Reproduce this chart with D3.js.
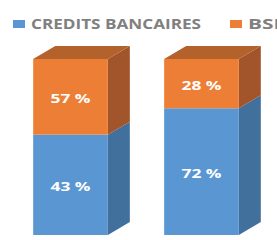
<!DOCTYPE html>
<html><head><meta charset="utf-8">
<script src="https://cdn.jsdelivr.net/npm/d3@7"></script>
<style>html,body{margin:0;padding:0;background:#fff;}svg{display:block;}</style>
</head><body>
<svg id="c" width="277" height="240"></svg>
<script>
const categories = ["A", "B"];
const seriesNames = ["CREDITS BANCAIRES", "BSF"];
const creditsValues = [57, 72];   // drawn heights (share of bar)
const bsfValues = [43, 28];
const creditsLabels = ["43 %", "72 %"];
const bsfLabels = ["57 %", "28 %"];

const W = 277, H = 240;
const svg = d3.select("#c");
const depth = {dx: 22, dy: -13};
const x = d3.scaleBand().domain(categories).range([7, 265]).paddingInner(0.43).paddingOuter(0.2);
const y = d3.scaleLinear().domain([0, 100]).range([235, 59]);

const colors = {
  "CREDITS BANCAIRES": {front: "#5A96D2", side: "#41709C", top: "#4A82B6"},
  "BSF": {front: "#EC7E35", side: "#A2552A", top: "#B4622C"}
};

const stackData = categories.map((c, i) => ({cat: c, "CREDITS BANCAIRES": creditsValues[i], "BSF": bsfValues[i]}));
const stack = d3.stack().keys(seriesNames)(stackData);
const labels = {"CREDITS BANCAIRES": creditsLabels, "BSF": bsfLabels};

stack.forEach((layer, li) => {
  const key = layer.key;
  const g = svg.append("g");
  layer.forEach((d, i) => {
    const x0 = x(categories[i]), x1 = x0 + x.bandwidth();
    const yT = y(d[1]), yB = y(d[0]);
    g.append("path")
      .attr("d", `M${x1},${yT}L${x1+depth.dx},${yT+depth.dy}L${x1+depth.dx},${yB+depth.dy}L${x1},${yB}Z`)
      .attr("fill", colors[key].side);
    if (li === stack.length - 1) {
      g.append("path")
        .attr("d", `M${x0},${yT}L${x0+depth.dx},${yT+depth.dy}L${x1+depth.dx},${yT+depth.dy}L${x1},${yT}Z`)
        .attr("fill", colors[key].top);
    }
    g.append("rect").attr("x", x0).attr("y", yT).attr("width", x.bandwidth()).attr("height", yB - yT)
      .attr("fill", colors[key].front);
    const cx = (x0 + x1) / 2;
    g.append("text")
      .attr("x", cx - 20).attr("y", (yT + yB) / 2 + 6)
      .attr("font-family", "Open Sans, sans-serif").attr("font-weight", "bold").attr("font-size", 13)
      .attr("textLength", 40).attr("lengthAdjust", "spacingAndGlyphs")
      .attr("fill", "#fff")
      .text(labels[key][i]);
  });
});

// legend
const legendX = [13, 230];
const legendTextLen = [170, 37];
seriesNames.forEach((s, i) => {
  svg.append("rect").attr("x", legendX[i]).attr("y", 20).attr("width", 12).attr("height", 8)
    .attr("fill", colors[s].front);
  svg.append("text").attr("x", legendX[i] + 18).attr("y", 28.5)
    .attr("font-family", "Open Sans, sans-serif").attr("font-weight", "bold").attr("font-size", 13.5)
    .attr("fill", "#808080")
    .attr("textLength", legendTextLen[i]).attr("lengthAdjust", "spacingAndGlyphs")
    .text(s);
});
</script>
</body></html>
